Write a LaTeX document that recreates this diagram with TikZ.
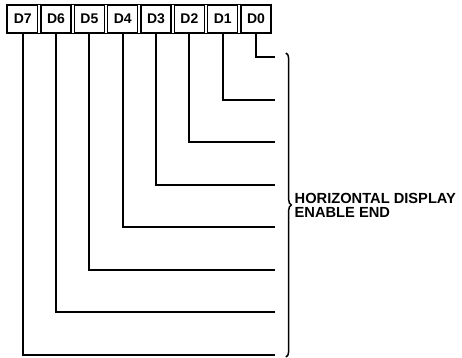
\documentclass[tikz,border=0pt]{standalone}
\usepackage{fontspec}
\setmainfont{Liberation Sans}
\usetikzlibrary{positioning,fit,decorations.pathreplacing}
\begin{document}
\begin{tikzpicture}[x=.75pt,y=-.75pt,line width=1.5pt,
bit/.style={draw,line width=1pt,minimum width=22.5pt,minimum height=21pt,inner sep=0pt,font=\fontsize{10.5}{12}\selectfont\bfseries}]
\useasboundingbox(0,0)rectangle(462,358);
\node[bit](d7)at(22.7,19){D7};
\node[bit,right=1.5pt of d7](d6){D6};
\node[bit,right=1.5pt of d6](d5){D5};
\node[bit,right=1.5pt of d5](d4){D4};
\node[bit,right=1.5pt of d4](d3){D3};
\node[bit,right=1.5pt of d3](d2){D2};
\node[bit,right=1.5pt of d2](d1){D1};
\node[bit,right=1.5pt of d1](d0){D0};
\node[draw,line width=1pt,inner sep=0pt,fit=(d7)(d0)](reg){};
\coordinate(e0)at(275,57);
\coordinate(e1)at(275,99.5);
\coordinate(e2)at(275,142);
\coordinate(e3)at(275,184.5);
\coordinate(e4)at(275,227);
\coordinate(e5)at(275,269.5);
\coordinate(e6)at(275,312);
\coordinate(e7)at(275,354.5);
\draw(d0.south)|-(e0);
\draw(d1.south)|-(e1);
\draw(d2.south)|-(e2);
\draw(d3.south)|-(e3);
\draw(d4.south)|-(e4);
\draw(d5.south)|-(e5);
\draw(d6.south)|-(e6);
\draw(d7.south)|-(e7);
% brace and label
\coordinate(bt)at(286,53);
\coordinate(bb)at(286,357);
\draw[decorate,decoration={brace,amplitude=4pt},line width=1.1pt](bt)--(bb);
\node[anchor=west,align=left,inner sep=2pt,font=\fontsize{11}{10.5}\selectfont\bfseries](lbl)at(291,205){HORIZONTAL DISPLAY\\ENABLE END};
\end{tikzpicture}
\end{document}
